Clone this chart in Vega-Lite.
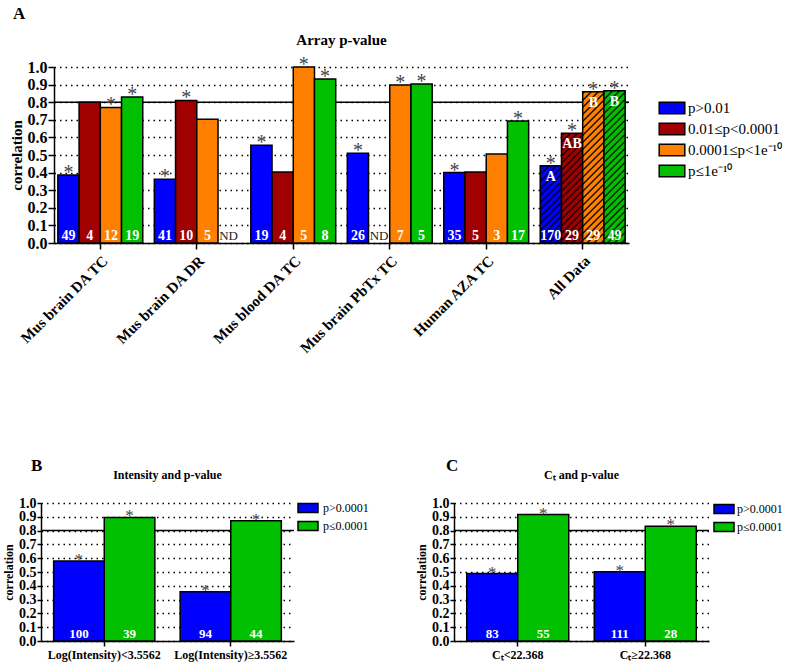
{
 "$schema": "https://vega.github.io/schema/vega-lite/v6.json",
 "background": "white",
 "padding": {"left": 2, "top": 5, "right": 2, "bottom": 2},
 "config": {
  "font": "Liberation Serif",
  "view": {"stroke": null},
  "mark": {"invalid": null},
  "axis": {"labelFont": "Liberation Serif", "titleFont": "Liberation Serif", "labelFontWeight": "bold", "titleFontWeight": "bold", "labelColor": "#000", "titleColor": "#000", "domainColor": "#000", "tickColor": "#000", "domainWidth": 1.5, "tickWidth": 1.5},
  "axisY": {"grid": true, "gridColor": "#000", "gridDash": [1.5, 4], "gridWidth": 1.5, "gridOpacity": 1, "labelOverlap": false},
  "axisX": {"grid": false},
  "title": {"font": "Liberation Serif", "fontWeight": "bold", "color": "#000"},
  "legend": {"labelFont": "Liberation Serif", "labelColor": "#000", "symbolStrokeColor": "#000", "symbolStrokeWidth": 1.5, "padding": 0}
 },
 "resolve": {"scale": {"fill": "independent", "xOffset": "independent"}, "legend": {"fill": "independent"}},
 "bounds": "flush",
 "spacing": 436,
 "vconcat": [
  {
   "title": {"text": "A", "anchor": "start", "frame": "group", "fontSize": 17, "offset": 10, "dx": -28},
   "bounds": "flush",
   "spacing": 12,
   "resolve": {"scale": {"fill": "independent", "xOffset": "independent"}, "legend": {"fill": "independent"}},
   "hconcat": [
    {"width": 1, "height": 176, "data": {"values": [{}]}, "mark": {"type": "point", "opacity": 0}, "encoding": {}},
    {
     "width": 575,
     "height": 176,
     "title": {"text": "Array p-value", "fontSize": 15, "frame": "group", "anchor": "middle", "offset": 7},
     "data": {"values": [
      {"g": "Mus brain DA TC", "c": "p>0.01", "r": 0.386, "n": "49", "s": "*", "lab": ""},
      {"g": "Mus brain DA TC", "c": "0.01≤p<0.0001", "r": 0.80, "n": "4", "s": "", "lab": ""},
      {"g": "Mus brain DA TC", "c": "0.0001≤p<1e⁻¹⁰", "r": 0.77, "n": "12", "s": "*", "lab": ""},
      {"g": "Mus brain DA TC", "c": "p≤1e⁻¹⁰", "r": 0.83, "n": "19", "s": "*", "lab": ""},
      {"g": "Mus brain DA DR", "c": "p>0.01", "r": 0.362, "n": "41", "s": "*", "lab": ""},
      {"g": "Mus brain DA DR", "c": "0.01≤p<0.0001", "r": 0.81, "n": "10", "s": "*", "lab": ""},
      {"g": "Mus brain DA DR", "c": "0.0001≤p<1e⁻¹⁰", "r": 0.703, "n": "5", "s": "", "lab": ""},
      {"g": "Mus brain DA DR", "c": "p≤1e⁻¹⁰", "r": null, "n": "ND", "s": "", "lab": ""},
      {"g": "Mus blood DA TC", "c": "p>0.01", "r": 0.556, "n": "19", "s": "*", "lab": ""},
      {"g": "Mus blood DA TC", "c": "0.01≤p<0.0001", "r": 0.403, "n": "4", "s": "", "lab": ""},
      {"g": "Mus blood DA TC", "c": "0.0001≤p<1e⁻¹⁰", "r": 1.0, "n": "5", "s": "*", "lab": ""},
      {"g": "Mus blood DA TC", "c": "p≤1e⁻¹⁰", "r": 0.932, "n": "8", "s": "*", "lab": ""},
      {"g": "Mus brain PbTx TC", "c": "p>0.01", "r": 0.51, "n": "26", "s": "*", "lab": ""},
      {"g": "Mus brain PbTx TC", "c": "0.01≤p<0.0001", "r": null, "n": "ND", "s": "", "lab": ""},
      {"g": "Mus brain PbTx TC", "c": "0.0001≤p<1e⁻¹⁰", "r": 0.898, "n": "7", "s": "*", "lab": ""},
      {"g": "Mus brain PbTx TC", "c": "p≤1e⁻¹⁰", "r": 0.903, "n": "5", "s": "*", "lab": ""},
      {"g": "Human AZA TC", "c": "p>0.01", "r": 0.40, "n": "35", "s": "*", "lab": ""},
      {"g": "Human AZA TC", "c": "0.01≤p<0.0001", "r": 0.403, "n": "5", "s": "", "lab": ""},
      {"g": "Human AZA TC", "c": "0.0001≤p<1e⁻¹⁰", "r": 0.506, "n": "3", "s": "", "lab": ""},
      {"g": "Human AZA TC", "c": "p≤1e⁻¹⁰", "r": 0.693, "n": "17", "s": "*", "lab": ""},
      {"g": "All Data", "c": "p>0.01", "r": 0.439, "n": "170", "s": "*", "lab": "A"},
      {"g": "All Data", "c": "0.01≤p<0.0001", "r": 0.623, "n": "29", "s": "*", "lab": "AB"},
      {"g": "All Data", "c": "0.0001≤p<1e⁻¹⁰", "r": 0.86, "n": "29", "s": "*", "lab": "B"},
      {"g": "All Data", "c": "p≤1e⁻¹⁰", "r": 0.865, "n": "49", "s": "*", "lab": "B"}
     ]},
     "layer": [
      {"data": {"values": [{}]}, "mark": {"type": "rule", "color": "#000", "strokeWidth": 1.5}, "encoding": {"y": {"datum": 0.8, "type": "quantitative", "scale": {"domain": [0, 1], "nice": false}, "axis": {"title": "correlation", "grid": true, "values": [0, 0.1, 0.2, 0.3, 0.4, 0.5, 0.6, 0.7, 0.8, 0.9, 1.0], "format": ".1f", "labelFontSize": 16, "titleFontSize": 15, "tickSize": 6, "labelPadding": 1, "titlePadding": 3}}}},
      {
       "encoding": {
        "x": {"field": "g", "type": "nominal", "sort": null, "scale": {"paddingInner": 0.12, "paddingOuter": 0.04}, "axis": {"title": null, "labelAngle": -45, "labelFontSize": 15, "tickSize": 6, "labelPadding": 4, "labelLimit": 300}},
        "xOffset": {"field": "c", "type": "nominal", "sort": null, "scale": {"domain": ["p>0.01", "0.01≤p<0.0001", "0.0001≤p<1e⁻¹⁰", "p≤1e⁻¹⁰"]}},
        "y": {"field": "r", "type": "quantitative", "scale": {"domain": [0, 1], "nice": false}, "axis": {"title": "correlation", "grid": true, "values": [0, 0.1, 0.2, 0.3, 0.4, 0.5, 0.6, 0.7, 0.8, 0.9, 1.0], "format": ".1f", "labelFontSize": 16, "titleFontSize": 15, "tickSize": 6, "labelPadding": 1, "titlePadding": 3}}
       },
       "layer": [
        {
         "transform": [{"filter": "isValid(datum.r)"}],
         "mark": {"type": "bar", "stroke": "#000", "strokeWidth": 1.5},
         "encoding": {
          "fill": {
           "condition": [
            {"test": "datum.g === 'All Data' && datum.c === 'p>0.01'", "value": {"gradient": "linear", "x1": 0, "y1": 0, "x2": 0.5785, "y2": 2.106, "stops": [
             {"offset": 0, "color": "#00f"}, {"offset": 0.01, "color": "#000"}, {"offset": 0.02, "color": "#00f"},
             {"offset": 0.04, "color": "#00f"}, {"offset": 0.05, "color": "#000"}, {"offset": 0.06, "color": "#00f"},
             {"offset": 0.08, "color": "#00f"}, {"offset": 0.09, "color": "#000"}, {"offset": 0.1, "color": "#00f"},
             {"offset": 0.12, "color": "#00f"}, {"offset": 0.13, "color": "#000"}, {"offset": 0.14, "color": "#00f"},
             {"offset": 0.16, "color": "#00f"}, {"offset": 0.17, "color": "#000"}, {"offset": 0.18, "color": "#00f"},
             {"offset": 0.2, "color": "#00f"}, {"offset": 0.21, "color": "#000"}, {"offset": 0.22, "color": "#00f"},
             {"offset": 0.24, "color": "#00f"}, {"offset": 0.25, "color": "#000"}, {"offset": 0.26, "color": "#00f"},
             {"offset": 0.28, "color": "#00f"}, {"offset": 0.29, "color": "#000"}, {"offset": 0.3, "color": "#00f"},
             {"offset": 0.32, "color": "#00f"}, {"offset": 0.33, "color": "#000"}, {"offset": 0.34, "color": "#00f"},
             {"offset": 0.36, "color": "#00f"}, {"offset": 0.37, "color": "#000"}, {"offset": 0.38, "color": "#00f"},
             {"offset": 0.4, "color": "#00f"}, {"offset": 0.41, "color": "#000"}, {"offset": 0.42, "color": "#00f"},
             {"offset": 0.44, "color": "#00f"}, {"offset": 0.45, "color": "#000"}, {"offset": 0.46, "color": "#00f"},
             {"offset": 0.48, "color": "#00f"}, {"offset": 0.49, "color": "#000"}, {"offset": 0.5, "color": "#00f"},
             {"offset": 0.52, "color": "#00f"}, {"offset": 0.53, "color": "#000"}, {"offset": 0.54, "color": "#00f"},
             {"offset": 0.56, "color": "#00f"}, {"offset": 0.57, "color": "#000"}, {"offset": 0.58, "color": "#00f"}
            ]}},
            {"test": "datum.g === 'All Data' && datum.c === '0.01≤p<0.0001'", "value": {"gradient": "linear", "x1": 0, "y1": 0, "x2": 0.2978, "y2": 1.5384, "stops": [
             {"offset": 0, "color": "#a00000"}, {"offset": 0.01, "color": "#000"}, {"offset": 0.02, "color": "#a00000"},
             {"offset": 0.04, "color": "#a00000"}, {"offset": 0.05, "color": "#000"}, {"offset": 0.06, "color": "#a00000"},
             {"offset": 0.08, "color": "#a00000"}, {"offset": 0.09, "color": "#000"}, {"offset": 0.1, "color": "#a00000"},
             {"offset": 0.12, "color": "#a00000"}, {"offset": 0.13, "color": "#000"}, {"offset": 0.14, "color": "#a00000"},
             {"offset": 0.16, "color": "#a00000"}, {"offset": 0.17, "color": "#000"}, {"offset": 0.18, "color": "#a00000"},
             {"offset": 0.2, "color": "#a00000"}, {"offset": 0.21, "color": "#000"}, {"offset": 0.22, "color": "#a00000"},
             {"offset": 0.24, "color": "#a00000"}, {"offset": 0.25, "color": "#000"}, {"offset": 0.26, "color": "#a00000"},
             {"offset": 0.28, "color": "#a00000"}, {"offset": 0.29, "color": "#000"}, {"offset": 0.3, "color": "#a00000"},
             {"offset": 0.32, "color": "#a00000"}, {"offset": 0.33, "color": "#000"}, {"offset": 0.34, "color": "#a00000"},
             {"offset": 0.36, "color": "#a00000"}, {"offset": 0.37, "color": "#000"}, {"offset": 0.38, "color": "#a00000"},
             {"offset": 0.4, "color": "#a00000"}, {"offset": 0.41, "color": "#000"}, {"offset": 0.42, "color": "#a00000"},
             {"offset": 0.44, "color": "#a00000"}, {"offset": 0.45, "color": "#000"}, {"offset": 0.46, "color": "#a00000"},
             {"offset": 0.48, "color": "#a00000"}, {"offset": 0.49, "color": "#000"}, {"offset": 0.5, "color": "#a00000"},
             {"offset": 0.52, "color": "#a00000"}, {"offset": 0.53, "color": "#000"}, {"offset": 0.54, "color": "#a00000"},
             {"offset": 0.56, "color": "#a00000"}, {"offset": 0.57, "color": "#000"}, {"offset": 0.58, "color": "#a00000"},
             {"offset": 0.6, "color": "#a00000"}, {"offset": 0.61, "color": "#000"}, {"offset": 0.62, "color": "#a00000"},
             {"offset": 0.64, "color": "#a00000"}, {"offset": 0.65, "color": "#000"}, {"offset": 0.66, "color": "#a00000"},
             {"offset": 0.68, "color": "#a00000"}, {"offset": 0.69, "color": "#000"}, {"offset": 0.7, "color": "#a00000"},
             {"offset": 0.72, "color": "#a00000"}, {"offset": 0.73, "color": "#000"}, {"offset": 0.74, "color": "#a00000"}
            ]}},
            {"test": "datum.g === 'All Data' && datum.c === '0.0001≤p<1e⁻¹⁰'", "value": {"gradient": "linear", "x1": 0, "y1": 0, "x2": 0.159, "y2": 1.1339, "stops": [
             {"offset": 0, "color": "#ff8000"}, {"offset": 0.01, "color": "#000"}, {"offset": 0.02, "color": "#ff8000"},
             {"offset": 0.04, "color": "#ff8000"}, {"offset": 0.05, "color": "#000"}, {"offset": 0.06, "color": "#ff8000"},
             {"offset": 0.08, "color": "#ff8000"}, {"offset": 0.09, "color": "#000"}, {"offset": 0.1, "color": "#ff8000"},
             {"offset": 0.12, "color": "#ff8000"}, {"offset": 0.13, "color": "#000"}, {"offset": 0.14, "color": "#ff8000"},
             {"offset": 0.16, "color": "#ff8000"}, {"offset": 0.17, "color": "#000"}, {"offset": 0.18, "color": "#ff8000"},
             {"offset": 0.2, "color": "#ff8000"}, {"offset": 0.21, "color": "#000"}, {"offset": 0.22, "color": "#ff8000"},
             {"offset": 0.24, "color": "#ff8000"}, {"offset": 0.25, "color": "#000"}, {"offset": 0.26, "color": "#ff8000"},
             {"offset": 0.28, "color": "#ff8000"}, {"offset": 0.29, "color": "#000"}, {"offset": 0.3, "color": "#ff8000"},
             {"offset": 0.32, "color": "#ff8000"}, {"offset": 0.33, "color": "#000"}, {"offset": 0.34, "color": "#ff8000"},
             {"offset": 0.36, "color": "#ff8000"}, {"offset": 0.37, "color": "#000"}, {"offset": 0.38, "color": "#ff8000"},
             {"offset": 0.4, "color": "#ff8000"}, {"offset": 0.41, "color": "#000"}, {"offset": 0.42, "color": "#ff8000"},
             {"offset": 0.44, "color": "#ff8000"}, {"offset": 0.45, "color": "#000"}, {"offset": 0.46, "color": "#ff8000"},
             {"offset": 0.48, "color": "#ff8000"}, {"offset": 0.49, "color": "#000"}, {"offset": 0.5, "color": "#ff8000"},
             {"offset": 0.52, "color": "#ff8000"}, {"offset": 0.53, "color": "#000"}, {"offset": 0.54, "color": "#ff8000"},
             {"offset": 0.56, "color": "#ff8000"}, {"offset": 0.57, "color": "#000"}, {"offset": 0.58, "color": "#ff8000"},
             {"offset": 0.6, "color": "#ff8000"}, {"offset": 0.61, "color": "#000"}, {"offset": 0.62, "color": "#ff8000"},
             {"offset": 0.64, "color": "#ff8000"}, {"offset": 0.65, "color": "#000"}, {"offset": 0.66, "color": "#ff8000"},
             {"offset": 0.68, "color": "#ff8000"}, {"offset": 0.69, "color": "#000"}, {"offset": 0.7, "color": "#ff8000"},
             {"offset": 0.72, "color": "#ff8000"}, {"offset": 0.73, "color": "#000"}, {"offset": 0.74, "color": "#ff8000"},
             {"offset": 0.76, "color": "#ff8000"}, {"offset": 0.77, "color": "#000"}, {"offset": 0.78, "color": "#ff8000"},
             {"offset": 0.8, "color": "#ff8000"}, {"offset": 0.81, "color": "#000"}, {"offset": 0.82, "color": "#ff8000"},
             {"offset": 0.84, "color": "#ff8000"}, {"offset": 0.85, "color": "#000"}, {"offset": 0.86, "color": "#ff8000"},
             {"offset": 0.88, "color": "#ff8000"}, {"offset": 0.89, "color": "#000"}, {"offset": 0.9, "color": "#ff8000"},
             {"offset": 0.92, "color": "#ff8000"}, {"offset": 0.93, "color": "#000"}, {"offset": 0.94, "color": "#ff8000"},
             {"offset": 0.96, "color": "#ff8000"}, {"offset": 0.97, "color": "#000"}, {"offset": 0.98, "color": "#ff8000"}
            ]}},
            {"test": "datum.g === 'All Data' && datum.c === 'p≤1e⁻¹⁰'", "value": {"gradient": "linear", "x1": 0, "y1": 0, "x2": 0.1572, "y2": 1.1276, "stops": [
             {"offset": 0, "color": "#00c000"}, {"offset": 0.01, "color": "#000"}, {"offset": 0.02, "color": "#00c000"},
             {"offset": 0.04, "color": "#00c000"}, {"offset": 0.05, "color": "#000"}, {"offset": 0.06, "color": "#00c000"},
             {"offset": 0.08, "color": "#00c000"}, {"offset": 0.09, "color": "#000"}, {"offset": 0.1, "color": "#00c000"},
             {"offset": 0.12, "color": "#00c000"}, {"offset": 0.13, "color": "#000"}, {"offset": 0.14, "color": "#00c000"},
             {"offset": 0.16, "color": "#00c000"}, {"offset": 0.17, "color": "#000"}, {"offset": 0.18, "color": "#00c000"},
             {"offset": 0.2, "color": "#00c000"}, {"offset": 0.21, "color": "#000"}, {"offset": 0.22, "color": "#00c000"},
             {"offset": 0.24, "color": "#00c000"}, {"offset": 0.25, "color": "#000"}, {"offset": 0.26, "color": "#00c000"},
             {"offset": 0.28, "color": "#00c000"}, {"offset": 0.29, "color": "#000"}, {"offset": 0.3, "color": "#00c000"},
             {"offset": 0.32, "color": "#00c000"}, {"offset": 0.33, "color": "#000"}, {"offset": 0.34, "color": "#00c000"},
             {"offset": 0.36, "color": "#00c000"}, {"offset": 0.37, "color": "#000"}, {"offset": 0.38, "color": "#00c000"},
             {"offset": 0.4, "color": "#00c000"}, {"offset": 0.41, "color": "#000"}, {"offset": 0.42, "color": "#00c000"},
             {"offset": 0.44, "color": "#00c000"}, {"offset": 0.45, "color": "#000"}, {"offset": 0.46, "color": "#00c000"},
             {"offset": 0.48, "color": "#00c000"}, {"offset": 0.49, "color": "#000"}, {"offset": 0.5, "color": "#00c000"},
             {"offset": 0.52, "color": "#00c000"}, {"offset": 0.53, "color": "#000"}, {"offset": 0.54, "color": "#00c000"},
             {"offset": 0.56, "color": "#00c000"}, {"offset": 0.57, "color": "#000"}, {"offset": 0.58, "color": "#00c000"},
             {"offset": 0.6, "color": "#00c000"}, {"offset": 0.61, "color": "#000"}, {"offset": 0.62, "color": "#00c000"},
             {"offset": 0.64, "color": "#00c000"}, {"offset": 0.65, "color": "#000"}, {"offset": 0.66, "color": "#00c000"},
             {"offset": 0.68, "color": "#00c000"}, {"offset": 0.69, "color": "#000"}, {"offset": 0.7, "color": "#00c000"},
             {"offset": 0.72, "color": "#00c000"}, {"offset": 0.73, "color": "#000"}, {"offset": 0.74, "color": "#00c000"},
             {"offset": 0.76, "color": "#00c000"}, {"offset": 0.77, "color": "#000"}, {"offset": 0.78, "color": "#00c000"},
             {"offset": 0.8, "color": "#00c000"}, {"offset": 0.81, "color": "#000"}, {"offset": 0.82, "color": "#00c000"},
             {"offset": 0.84, "color": "#00c000"}, {"offset": 0.85, "color": "#000"}, {"offset": 0.86, "color": "#00c000"},
             {"offset": 0.88, "color": "#00c000"}, {"offset": 0.89, "color": "#000"}, {"offset": 0.9, "color": "#00c000"},
             {"offset": 0.92, "color": "#00c000"}, {"offset": 0.93, "color": "#000"}, {"offset": 0.94, "color": "#00c000"},
             {"offset": 0.96, "color": "#00c000"}, {"offset": 0.97, "color": "#000"}, {"offset": 0.98, "color": "#00c000"}
            ]}}
           ],
           "field": "c", "type": "nominal",
           "scale": {"domain": ["p>0.01", "0.01≤p<0.0001", "0.0001≤p<1e⁻¹⁰", "p≤1e⁻¹⁰"], "range": ["#0000ff", "#a00000", "#ff8000", "#00c000"]},
           "legend": {"title": null, "orient": "none", "legendX": 609, "legendY": 32, "symbolType": "M-1.6,-0.72H1.6V0.72H-1.6Z", "symbolSize": 256, "labelFontSize": 15, "labelOffset": 7, "rowPadding": 3}
          }
         }
        },
        {"transform": [{"filter": "datum.n !== 'ND'"}], "mark": {"type": "text", "color": "#fff", "fontWeight": "bold", "fontSize": 14, "baseline": "alphabetic", "dy": -3}, "encoding": {"y": {"datum": 0}, "text": {"field": "n"}}},
        {"transform": [{"filter": "datum.n === 'ND'"}], "mark": {"type": "text", "color": "#222", "fontSize": 13, "baseline": "alphabetic", "dy": -3}, "encoding": {"y": {"datum": 0}, "text": {"field": "n"}}},
        {"transform": [{"filter": "datum.s === '*'"}], "mark": {"type": "text", "color": "#444", "fontSize": 20, "baseline": "alphabetic", "dy": 4}, "encoding": {"text": {"field": "s"}}},
        {"transform": [{"filter": "datum.lab !== ''"}], "mark": {"type": "text", "color": "#fff", "fontWeight": "bold", "fontSize": 14, "baseline": "alphabetic", "dy": 15}, "encoding": {"text": {"field": "lab"}}}
       ]
      }
     ]
    }
   ]
  },
  {
   "bounds": "flush",
   "spacing": 413,
   "resolve": {"scale": {"fill": "independent", "xOffset": "independent"}, "legend": {"fill": "independent"}},
   "hconcat": [
    {
     "title": {"text": "B", "anchor": "start", "frame": "group", "fontSize": 17, "offset": -6, "dx": -10},
     "bounds": "flush",
     "vconcat": [
      {
       "width": 253,
       "height": 138,
       "title": {"text": "Intensity and p-value", "fontSize": 12, "frame": "group", "anchor": "middle", "offset": 14},
       "data": {"values": [
        {"g": "Log(Intensity)<3.5562", "c": "p>0.0001", "r": 0.58, "n": "100"},
        {"g": "Log(Intensity)<3.5562", "c": "p≤0.0001", "r": 0.895, "n": "39"},
        {"g": "Log(Intensity)≥3.5562", "c": "p>0.0001", "r": 0.357, "n": "94"},
        {"g": "Log(Intensity)≥3.5562", "c": "p≤0.0001", "r": 0.872, "n": "44"}
       ]},
       "layer": [
        {"data": {"values": [{}]}, "mark": {"type": "rule", "color": "#000", "strokeWidth": 1.5}, "encoding": {"y": {"datum": 0.8, "type": "quantitative", "scale": {"domain": [0, 1], "nice": false}, "axis": {"title": "correlation", "grid": true, "values": [0, 0.1, 0.2, 0.3, 0.4, 0.5, 0.6, 0.7, 0.8, 0.9, 1.0], "format": ".1f", "labelFontSize": 14, "titleFontSize": 12, "tickSize": 4, "labelPadding": 1, "titlePadding": 3}}}},
        {
         "encoding": {
          "x": {"field": "g", "type": "nominal", "sort": null, "scale": {"paddingInner": 0.2, "paddingOuter": 0.1}, "axis": {"title": null, "labelAngle": 0, "labelFontSize": 12, "tickSize": 5, "labelPadding": 3}},
          "xOffset": {"field": "c", "type": "nominal", "sort": null},
          "y": {"field": "r", "type": "quantitative", "scale": {"domain": [0, 1], "nice": false}, "axis": {"title": "correlation", "grid": true, "values": [0, 0.1, 0.2, 0.3, 0.4, 0.5, 0.6, 0.7, 0.8, 0.9, 1.0], "format": ".1f", "labelFontSize": 14, "titleFontSize": 12, "tickSize": 4, "labelPadding": 1, "titlePadding": 3}}
         },
         "layer": [
          {"mark": {"type": "bar", "stroke": "#000", "strokeWidth": 1.5}, "encoding": {"fill": {"field": "c", "type": "nominal", "scale": {"domain": ["p>0.0001", "p≤0.0001"], "range": ["#0000ff", "#00c000"]}, "legend": {"title": null, "orient": "none", "legendX": 258, "legendY": -4, "symbolType": "M-1.25,-0.56H1.25V0.56H-1.25Z", "symbolSize": 256, "labelFontSize": 12, "labelOffset": 6, "rowPadding": 1}}}},
          {"mark": {"type": "text", "color": "#fff", "fontWeight": "bold", "fontSize": 13, "baseline": "alphabetic", "dy": -3}, "encoding": {"y": {"datum": 0}, "text": {"field": "n"}}},
          {"mark": {"type": "text", "color": "#444", "fontSize": 17, "baseline": "alphabetic", "dy": 4, "text": "*"}, "encoding": {}}
         ]
        }
       ]
      }
     ]
    },
    {
     "title": {"text": "C", "anchor": "start", "frame": "group", "fontSize": 17, "offset": -6, "dx": -8},
     "bounds": "flush",
     "vconcat": [
      {
       "width": 255,
       "height": 138,
       "title": {"text": "Cₜ and p-value", "fontSize": 12, "frame": "group", "anchor": "middle", "offset": 14},
       "data": {"values": [
        {"g": "Cₜ<22.368", "c": "p>0.0001", "r": 0.489, "n": "83"},
        {"g": "Cₜ<22.368", "c": "p≤0.0001", "r": 0.916, "n": "55"},
        {"g": "Cₜ≥22.368", "c": "p>0.0001", "r": 0.501, "n": "111"},
        {"g": "Cₜ≥22.368", "c": "p≤0.0001", "r": 0.832, "n": "28"}
       ]},
       "layer": [
        {"data": {"values": [{}]}, "mark": {"type": "rule", "color": "#000", "strokeWidth": 1.5}, "encoding": {"y": {"datum": 0.8, "type": "quantitative", "scale": {"domain": [0, 1], "nice": false}, "axis": {"title": "correlation", "grid": true, "values": [0, 0.1, 0.2, 0.3, 0.4, 0.5, 0.6, 0.7, 0.8, 0.9, 1.0], "format": ".1f", "labelFontSize": 14, "titleFontSize": 12, "tickSize": 4, "labelPadding": 1, "titlePadding": 3}}}},
        {
         "encoding": {
          "x": {"field": "g", "type": "nominal", "sort": null, "scale": {"paddingInner": 0.2, "paddingOuter": 0.1}, "axis": {"title": null, "labelAngle": 0, "labelFontSize": 12, "tickSize": 5, "labelPadding": 3}},
          "xOffset": {"field": "c", "type": "nominal", "sort": null},
          "y": {"field": "r", "type": "quantitative", "scale": {"domain": [0, 1], "nice": false}, "axis": {"title": "correlation", "grid": true, "values": [0, 0.1, 0.2, 0.3, 0.4, 0.5, 0.6, 0.7, 0.8, 0.9, 1.0], "format": ".1f", "labelFontSize": 14, "titleFontSize": 12, "tickSize": 4, "labelPadding": 1, "titlePadding": 3}}
         },
         "layer": [
          {"mark": {"type": "bar", "stroke": "#000", "strokeWidth": 1.5}, "encoding": {"fill": {"field": "c", "type": "nominal", "scale": {"domain": ["p>0.0001", "p≤0.0001"], "range": ["#0000ff", "#00c000"]}, "legend": {"title": null, "orient": "none", "legendX": 261, "legendY": -3, "symbolType": "M-1.25,-0.56H1.25V0.56H-1.25Z", "symbolSize": 256, "labelFontSize": 12, "labelOffset": 4, "rowPadding": 1}}}},
          {"mark": {"type": "text", "color": "#fff", "fontWeight": "bold", "fontSize": 13, "baseline": "alphabetic", "dy": -3}, "encoding": {"y": {"datum": 0}, "text": {"field": "n"}}},
          {"mark": {"type": "text", "color": "#444", "fontSize": 17, "baseline": "alphabetic", "dy": 4, "text": "*"}, "encoding": {}}
         ]
        }
       ]
      }
     ]
    }
   ]
  }
 ]
}
